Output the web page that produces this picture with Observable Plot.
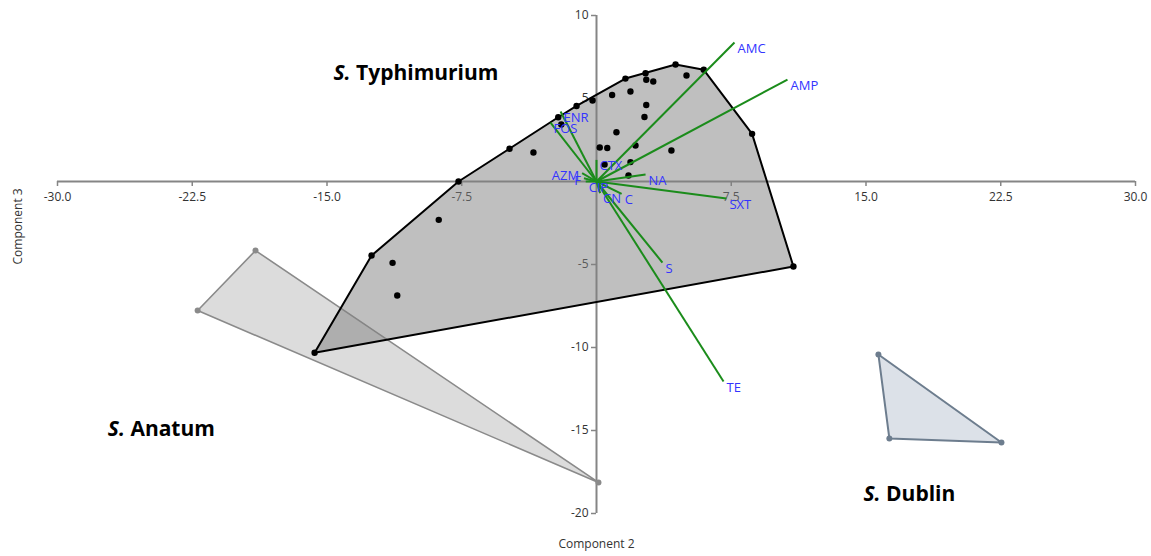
<!DOCTYPE html>
<html><head><meta charset="utf-8">
<script src="https://cdn.jsdelivr.net/npm/d3@7"></script>
<script src="https://cdn.jsdelivr.net/npm/@observablehq/plot@0.6"></script>
<style>
html,body{margin:0;padding:0;background:#fff;}
#chart{width:1151px;height:556px;overflow:hidden;}
</style></head><body><div id="chart"></div>
<script>
// S. Typhimurium isolates (Component 2, Component 3)
const typhX = [-15.69,-12.52,-7.68,-4.84,-2.13,-1.11,-0.22,1.61,2.73,4.40,5.97,8.66,10.96,-3.51,-1.96,0.87,1.89,2.77,3.16,5.01,2.77,2.67,1.11,0.18,0.60,2.17,4.17,1.89,0.45,1.78,-8.78,-11.35,-11.09];
const typhY = [-10.32,-4.46,0.0,1.97,3.87,4.55,4.88,6.20,6.52,7.05,6.73,2.87,-5.12,1.75,3.43,5.21,5.42,6.13,6.02,6.39,4.61,3.89,2.97,2.05,2.02,2.17,1.87,1.17,1.02,0.36,-2.31,-4.90,-6.87];
// S. Anatum isolates
const anatumX = [-18.98,-22.20,0.11];
const anatumY = [-4.16,-7.77,-18.13];
// S. Dublin isolates
const dublinX = [15.69,16.30,22.54];
const dublinY = [-10.42,-15.48,-15.72];
// Antimicrobial loadings
const loadingNames = ["AMC","AMP","SXT","NA","S","TE","C","CN","CIP","F","AZM","CTX","ENR","FOS"];
const loadingX = [7.68,10.63,7.23,2.73,3.67,7.07,1.4,0.2,-0.6,-0.7,-0.8,0.0,-2.0,-2.56];
const loadingY = [8.37,6.14,-1.02,0.42,-4.88,-12.05,-0.75,-0.7,0.0,0.2,0.5,1.3,4.22,3.55];
// Group labels
const groupNames = ["Typhimurium","Anatum","Dublin"];
const groupLabelX = [-14.64,-27.2,14.86];
const groupLabelY = [6.5,-14.94,-18.86];
// Axis ticks
const xTicks = [-30,-22.5,-15,-7.5,7.5,15,22.5,30];
const xTickLabels = ["-30.0","-22.5","-15.0","-7.5","7.5","15.0","22.5","30.0"];
const yTicks = [10,5,-5,-10,-15,-20];
const yTickLabels = ["10","5","-5","-10","-15","-20"];

const pts = (xs, ys) => xs.map((x, i) => ({x, y: ys[i]}));
const typh = pts(typhX, typhY);
const anatum = pts(anatumX, anatumY);
const dublin = pts(dublinX, dublinY);
const loadings = loadingNames.map((name, i) => ({name, x: loadingX[i], y: loadingY[i]}));
const leftLabels = new Set(["AZM","F"]);
const groups = groupNames.map((g, i) => ({label: "S. " + g, x: groupLabelX[i], y: groupLabelY[i]}));

const axisColor = "#858585";
const plot = Plot.plot({
  width: 1151, height: 556,
  marginLeft: 57, marginRight: 16, marginTop: 15, marginBottom: 43,
  x: {domain: [-30, 30], axis: null},
  y: {domain: [-20, 10], axis: null},
  style: {fontFamily: "'Open Sans', 'Noto Sans', sans-serif", background: "#fff", overflow: "visible"},
  marks: [
    Plot.ruleY([0], {x1: -30, x2: 30, stroke: axisColor, strokeWidth: 2}),
    Plot.ruleX([0], {y1: -20, y2: 10, stroke: axisColor, strokeWidth: 2}),
    Plot.ruleX(xTicks, {x: d => d, y1: 0, y2: -0.3, stroke: axisColor, strokeWidth: 1.5}),
    Plot.ruleY(yTicks, {y: d => d, x1: 0, x2: -0.28, stroke: axisColor, strokeWidth: 1.5}),
    Plot.text(xTicks, {x: d => d, y: 0, text: (d, i) => xTickLabels[i], dy: 16, fontSize: 12, fill: "#333"}),
    Plot.text(yTicks, {x: 0, y: d => d, text: (d, i) => yTickLabels[i], dx: -8, textAnchor: "end", fontSize: 12, fill: "#333"}),
    Plot.hull(anatum, {x: "x", y: "y", fill: "#a8a8a8", fillOpacity: 0.4, stroke: "#8a8a8a", strokeWidth: 1.6}),
    Plot.dot(anatum, {x: "x", y: "y", r: 3, fill: "#8a8a8a"}),
    Plot.hull(dublin, {x: "x", y: "y", fill: "#b2bccb", fillOpacity: 0.45, stroke: "#6d7d8e", strokeWidth: 2}),
    Plot.dot(dublin, {x: "x", y: "y", r: 3, fill: "#6d7d8e"}),
    Plot.hull(typh, {x: "x", y: "y", fill: "#808080", fillOpacity: 0.5, stroke: "#000", strokeWidth: 2}),
    Plot.dot(typh, {x: "x", y: "y", r: 3.2, fill: "#000"}),
    Plot.link(loadings, {x1: 0, y1: 0, x2: "x", y2: "y", stroke: "#1b8c1b", strokeWidth: 2}),
    Plot.text(loadings.filter(d => !leftLabels.has(d.name)), {x: "x", y: "y", text: "name", textAnchor: "start", dx: 3, dy: 6, fontSize: 13, fill: "#3434ff"}),
    Plot.text(loadings.filter(d => leftLabels.has(d.name)), {x: "x", y: "y", text: "name", textAnchor: "end", dx: -3, dy: 3, fontSize: 13, fill: "#3434ff"}),
    Plot.text(groups, {x: "x", y: "y", text: "label", textAnchor: "start", fontSize: 21, fontWeight: "bold", fill: "#000"}),
    Plot.text(["Component 2"], {frameAnchor: "bottom", dy: 34, fontSize: 12, fill: "#333"}),
    Plot.text(["Component 3"], {frameAnchor: "left", dx: -39, rotate: -90, fontSize: 12, fill: "#333"})
  ]
});

plot.querySelectorAll("text").forEach(t => {
  const s = t.textContent;
  if (s.startsWith("S. ")) {
    t.textContent = "";
    const ts = document.createElementNS("http://www.w3.org/2000/svg", "tspan");
    ts.setAttribute("font-style", "italic");
    ts.textContent = "S.";
    t.appendChild(ts);
    t.appendChild(document.createTextNode(s.slice(2)));
  }
});
document.getElementById("chart").appendChild(plot);
</script>
</body></html>
